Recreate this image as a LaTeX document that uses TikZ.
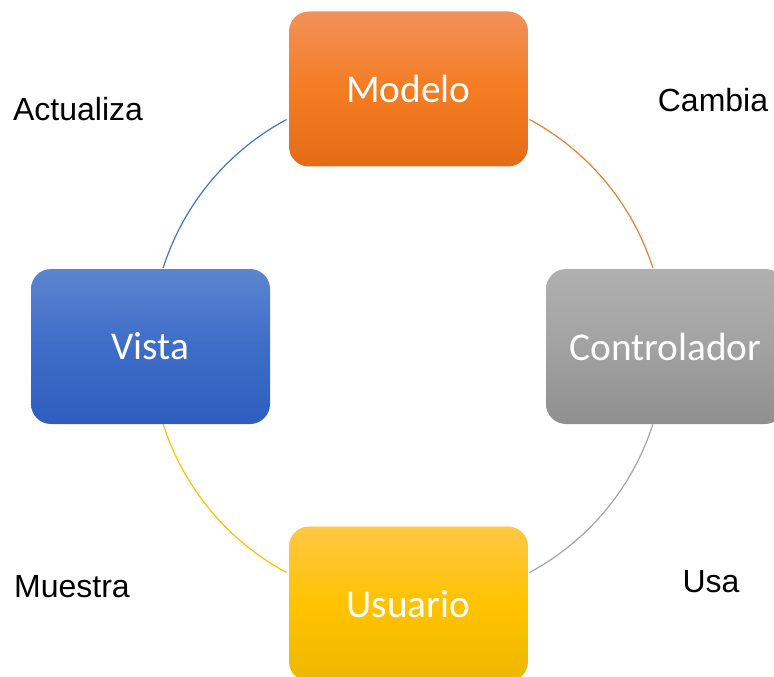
\documentclass[tikz,border=0pt]{standalone}
\usepackage{fontspec}
\setmainfont{Liberation Sans}
\newfontfamily\boxfont{Carlito}
\usepackage{tikz}
\usetikzlibrary{calc}
% Line colours
\definecolor{ModelOrange}{HTML}{ED7D31}
\definecolor{ViewBlue}{HTML}{4472C4}
\definecolor{CtrlGray}{HTML}{A5A5A5}
\definecolor{UserGold}{HTML}{FFC000}
% Box gradients
\definecolor{ModelTop}{HTML}{F1915A}
\definecolor{ModelMid}{HTML}{F47C22}
\definecolor{ModelBot}{HTML}{E46C17}
\definecolor{ViewTop}{HTML}{5C84D0}
\definecolor{ViewMid}{HTML}{3E6DC8}
\definecolor{ViewBot}{HTML}{2E5EBE}
\definecolor{CtrlTop}{HTML}{B0B0B0}
\definecolor{CtrlMid}{HTML}{A2A2A2}
\definecolor{CtrlBot}{HTML}{8F8F8F}
\definecolor{UserTop}{HTML}{FFC745}
\definecolor{UserMid}{HTML}{FFC300}
\definecolor{UserBot}{HTML}{EDB700}
\tikzset{
  % Box styles
  mvcbox/.style={rectangle, rounded corners=15pt, minimum width=179.25pt, minimum height=116.25pt, text=white, font=\boxfont\fontsize{29.5}{34}\selectfont, align=center},
  modelbox/.style={mvcbox, top color=ModelTop, bottom color=ModelBot, middle color=ModelMid},
  viewbox/.style={mvcbox, top color=ViewTop, bottom color=ViewBot, middle color=ViewMid},
  ctrlbox/.style={mvcbox, top color=CtrlTop, bottom color=CtrlBot, middle color=CtrlMid},
  userbox/.style={mvcbox, top color=UserTop, bottom color=UserBot, middle color=UserMid},
  % Text styles
  steplabel/.style={inner sep=0pt, anchor=base, font=\fontsize{24}{28}\selectfont},
  % Line styles
  ringline/.style={line width=0.9pt}
}
\begin{document}
\begin{tikzpicture}[x=0.75pt, y=-0.75pt]
  \useasboundingbox (0,0) rectangle (774,677);

  % Ring behind the boxes
  \coordinate (ring) at (408,346);
  \draw[ringline, ViewBlue] ([shift={(162.3:192.75pt)}]ring) arc[start angle=162.3, end angle=118.2, radius=192.75pt];
  \draw[ringline, ModelOrange] ([shift={(61.8:192.75pt)}]ring) arc[start angle=61.8, end angle=17.7, radius=192.75pt];
  \draw[ringline, CtrlGray] ([shift={(-17.7:192.75pt)}]ring) arc[start angle=-17.7, end angle=-61.8, radius=192.75pt];
  \draw[ringline, UserGold] ([shift={(-118.2:192.75pt)}]ring) arc[start angle=-118.2, end angle=-162.3, radius=192.75pt];

  % MVC boxes
  \node[modelbox] (modelo) at (408.5,89) {Modelo};
  \node[viewbox] (vista) at (150.5,346.5) {Vista};
  \node[ctrlbox] (controlador) at (665.5,346.5) {Controlador};
  \node[userbox] (usuario) at (408.5,604) {Usuario};

  % Labels
  \node[steplabel] (actualiza) at (78,121) {Actualiza};
  \node[steplabel] (cambia) at (713,112) {Cambia};
  \node[steplabel] (usa) at (711,592) {Usa};
  \node[steplabel] (muestra) at (72,597) {Muestra};
\end{tikzpicture}
\end{document}
